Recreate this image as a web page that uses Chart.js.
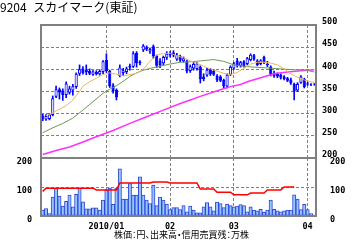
<!DOCTYPE html>
<html>
<head>
<meta charset="utf-8">
<script src="https://cdn.jsdelivr.net/npm/chart.js@4.4.0/dist/chart.umd.min.js"></script>
<style>
body{margin:0;background:#fff;width:355px;height:240px;overflow:hidden;position:relative;font-family:'Noto Sans CJK JP',sans-serif;color:#000}
#title{position:absolute;left:0;top:0;font-size:12px;line-height:14px;white-space:nowrap;word-spacing:4px}
#note{position:absolute;left:114px;top:229px;font-size:9px;line-height:12px;white-space:nowrap;font-feature-settings:"palt"}
#price{position:absolute;left:0;top:0}
#vol{position:absolute;left:0;top:157px}
</style>
</head>
<body>
<canvas id="price" width="355" height="161"></canvas>
<canvas id="vol" width="355" height="75"></canvas>
<div id="title">9204 スカイマーク(東証)</div>
<div id="note">株価：円、出来高・信用売買残：万株</div>
<script>
// 日足 2009/12/03 - 2010/04/05
var dates = [
  '2009/12/03','2009/12/04','2009/12/07','2009/12/08','2009/12/09','2009/12/10','2009/12/11','2009/12/14','2009/12/15','2009/12/16',
  '2009/12/17','2009/12/18','2009/12/21','2009/12/22','2009/12/24','2009/12/25','2009/12/28','2009/12/29','2009/12/30',
  '2010/01/04','2010/01/05','2010/01/06','2010/01/07','2010/01/08','2010/01/12','2010/01/13','2010/01/14','2010/01/15','2010/01/18',
  '2010/01/19','2010/01/20','2010/01/21','2010/01/22','2010/01/25','2010/01/26','2010/01/27','2010/01/28','2010/01/29',
  '2010/02/01','2010/02/02','2010/02/03','2010/02/04','2010/02/05','2010/02/08','2010/02/09','2010/02/10','2010/02/12','2010/02/15',
  '2010/02/16','2010/02/17','2010/02/18','2010/02/19','2010/02/22','2010/02/23','2010/02/24','2010/02/25','2010/02/26',
  '2010/03/01','2010/03/02','2010/03/03','2010/03/04','2010/03/05','2010/03/08','2010/03/09','2010/03/10','2010/03/11','2010/03/12',
  '2010/03/15','2010/03/16','2010/03/17','2010/03/18','2010/03/19','2010/03/23','2010/03/24','2010/03/25','2010/03/26','2010/03/29',
  '2010/03/30','2010/03/31','2010/04/01','2010/04/02','2010/04/05'
];
var tickLabels = ['2010/01', '02', '03', '04'];

var opens  = [296,287,288,297,338,355,352,342,347,352,360,390,402,399,396,388,394,389,394,
              421,396,364,354,385,392,394,404,406,437,414,443,450,440,452,430,420,414,426,
              436,438,422,430,418,418,396,402,401,406,384,386,400,396,385,384,376,361,388,
              402,420,408,418,412,421,432,420,412,428,410,405,392,390,388,384,380,377,367,352,370,378,
              368,366,366];
var highs  = [299,298,300,340,362,358,356,372,362,366,392,410,406,410,401,397,397,399,420,
              435,398,368,356,410,402,405,412,440,440,420,456,453,448,455,432,424,430,440,
              440,442,436,432,428,421,410,416,415,408,390,402,402,400,388,386,378,390,408,
              416,425,418,420,427,435,434,422,422,430,418,408,396,392,390,386,382,380,369,370,386,380,
              371,368,368];
var lows   = [284,285,286,295,336,333,330,336,344,342,357,386,389,388,388,386,387,387,390,
              393,359,346,331,383,386,390,398,404,405,410,440,442,436,425,404,404,410,422,
              428,428,420,417,416,392,393,398,398,369,374,384,386,386,372,372,358,358,386,
              400,405,405,405,410,419,420,408,410,413,406,385,382,381,378,376,372,366,331,350,368,358,
              364,363,364];
var closes = [287,295,298,335,355,348,342,368,357,362,390,400,392,394,390,395,389,396,418,
              396,362,351,337,404,398,402,408,436,414,417,453,445,446,430,408,410,428,435,
              432,431,433,420,425,395,407,412,413,378,378,399,389,388,375,374,361,388,406,
              414,408,416,407,425,433,422,410,420,416,412,388,385,384,381,378,374,368,350,367,384,360,
              366,364,365];

// 移動平均線 [日の番号, 値]
var maShort = [[1,295],[4,306],[7,318],[9,331],[11,350],[12,362],[14,372],[16,380],[18,388],[20,392],
               [22,389],[24,385],[26,388],[28,391],[30,400],[32,418],[34,432],[36,436],[38,436],[40,431],
               [42,426],[44,419],[46,414],[48,407],[50,401],[52,396],[54,391],[56,388],[58,393],[60,402],
               [62,412],[64,416],[66,416],[68,414],[70,410],[72,401],[74,390],[76,382],[78,376],[80,372],[81,370]];
var maMid = [[0,257],[3,268],[6,278],[9,290],[12,308],[15,327],[18,346],[20,355],[22,363],[24,373],
             [26,384],[28,392],[30,398],[32,402],[35,407],[38,412],[41,416],[44,417],[47,419],[51,422],
             [54,418],[57,410],[61,406],[67,403],[71,401],[75,399],[78,399],[81,394]];
var maLong = [[0,208],[4,217],[8,225],[12,236],[16,248],[21,262],[26,278],[31,293],[36,308],[41,323],
              [44,331],[47,339],[53,354],[56,361],[59,366],[61,372],[65,381],[69,390],[73,394],[77,397],[81,399]];

var volume = [20,26,8,65,96,69,34,51,72,32,75,96,49,25,25,28,28,20,55,
              90,96,40,96,163,58,58,112,72,72,135,72,55,43,107,36,65,55,41,
              22,29,29,22,36,14,34,20,11,11,32,46,32,18,48,43,29,41,36,
              32,34,39,36,14,32,20,18,23,13,20,55,23,18,14,18,20,20,73,58,22,40,
              22,8,3];
var margin = [85,96,96,96,96,96,96,96,96,96,96,96,96,96,96,96,90,90,90,
              90,90,90,90,114,114,114,114,114,114,114,114,114,114,117,117,117,117,117,
              114,114,114,114,114,114,114,114,114,93,93,93,93,93,82,82,82,82,82,
              73,73,73,73,73,79,79,79,79,79,90,90,90,90,90,100,100,100,100,null,null,null,
              null,null,null];

var monthIdx = [];
for (var i = 1; i < dates.length; i++) {
  if (dates[i].slice(0, 7) !== dates[i - 1].slice(0, 7)) monthIdx.push(i);
}
function pts(a) { return a.map(function (p) { return {x: dates[p[0]], y: p[1]}; }); }
var bodies = opens.map(function (o, i) { return [o, closes[i]]; });
var wicks = lows.map(function (l, i) { return [l, highs[i]]; });

var GRID = '#808080';
var tickFont = {family: 'DejaVu Sans Mono', size: 8.5, weight: 'bold'};
var frame = {
  id: 'frame',
  afterDraw: function (c) {
    var a = c.chartArea, x = c.ctx;
    x.save();
    x.strokeStyle = GRID;
    x.lineWidth = 2;
    x.strokeRect(a.left, a.top, a.right - a.left, a.bottom - a.top);
    x.restore();
  }
};
function monthGrid(ctx) { return monthIdx.indexOf(ctx.index) >= 0 ? GRID : 'rgba(0,0,0,0)'; }
// keep the plot area fixed: no extra room for overhanging labels
function noPad(s) { s.paddingTop = 0; s.paddingBottom = 0; s.paddingLeft = 0; s.paddingRight = 0; }

var ctx1 = document.getElementById('price').getContext('2d');
var priceChart = new Chart(ctx1, {
  type: 'bar',
  data: {
    labels: dates,
    datasets: [
      {type: 'line', data: pts(maShort), borderColor: '#eeb45c', borderWidth: 1, pointRadius: 0, spanGaps: true, order: 0},
      {type: 'line', data: pts(maMid), borderColor: '#6a9a58', borderWidth: 1, pointRadius: 0, spanGaps: true, order: 0},
      {type: 'line', data: pts(maLong), borderColor: '#ff30ff', borderWidth: 1.5, pointRadius: 0, spanGaps: true, order: 0},
      {data: bodies, grouped: false, barPercentage: 0.95, categoryPercentage: 1, borderWidth: 1, borderSkipped: false,
       borderColor: '#0000ff',
       backgroundColor: function (c) { return closes[c.dataIndex] >= opens[c.dataIndex] ? '#ffffff' : '#0000ff'; },
       order: 1},
      {data: wicks, grouped: false, barThickness: 1, backgroundColor: '#0000ff', order: 2}
    ]
  },
  options: {
    responsive: false,
    animation: false,
    layout: {padding: {left: 41, top: 25, right: 0, bottom: 3}},
    plugins: {legend: {display: false}, tooltip: {enabled: false}},
    scales: {
      x: {
        ticks: {display: false},
        grid: {offset: false, drawTicks: false, color: monthGrid},
        border: {display: false, dash: [3, 2]},
        afterFit: function (s) { s.height = 0; noPad(s); }
      },
      y: {
        position: 'right', min: 200, max: 500,
        ticks: {stepSize: 50, padding: 6, labelOffset: -3, color: '#000', font: tickFont},
        grid: {drawTicks: false, color: GRID},
        border: {display: false, dash: [3, 2]},
        afterFit: function (s) { s.width = 39; noPad(s); }
      }
    }
  },
  plugins: [frame]
});

var ctx2 = document.getElementById('vol').getContext('2d');
var volChart = new Chart(ctx2, {
  type: 'bar',
  data: {
    labels: dates,
    datasets: [
      {type: 'line', data: margin, borderColor: '#ff0000', borderWidth: 1.5, pointRadius: 0, order: 0},
      {data: volume, barPercentage: 1, categoryPercentage: 1, backgroundColor: '#92c8ff', borderColor: '#3344d8',
       borderWidth: 1, borderSkipped: false, order: 1}
    ]
  },
  options: {
    responsive: false,
    animation: false,
    layout: {padding: {left: 0, top: 1, right: 0, bottom: 0}},
    plugins: {legend: {display: false}, tooltip: {enabled: false}},
    scales: {
      x: {
        ticks: {autoSkip: false, maxRotation: 0, padding: 6, color: '#000', font: tickFont,
          callback: function (v, i) { var k = monthIdx.indexOf(i); return k >= 0 ? tickLabels[k] : ''; }},
        grid: {offset: false, drawTicks: false, color: monthGrid},
        border: {display: false, dash: [3, 2]},
        afterFit: function (s) { s.height = 16; noPad(s); }
      },
      y: {
        position: 'left', min: 0, max: 200,
        ticks: {stepSize: 100, padding: 9, labelOffset: 4, color: '#000', font: tickFont},
        grid: {drawTicks: false, color: function (c) { return c.tick.value === 100 ? GRID : 'rgba(0,0,0,0)'; }},
        border: {display: false, dash: [3, 2]},
        afterFit: function (s) { s.width = 41; noPad(s); }
      },
      y2: {
        position: 'right', min: 0, max: 200,
        ticks: {stepSize: 100, padding: 6, labelOffset: 4, color: '#000', font: tickFont},
        grid: {display: false},
        border: {display: false},
        afterFit: function (s) { s.width = 39; noPad(s); }
      }
    }
  },
  plugins: [frame]
});
</script>
</body>
</html>
